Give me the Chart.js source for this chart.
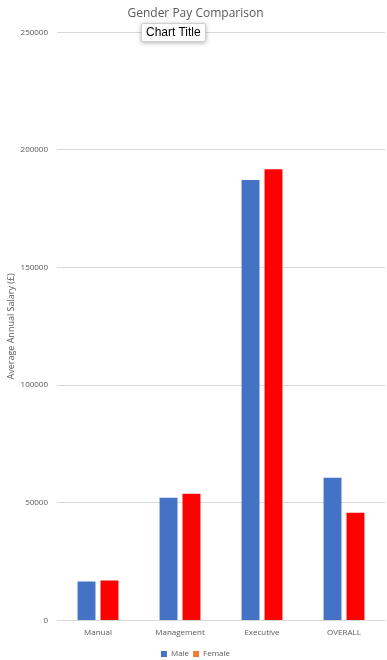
<!DOCTYPE html>
<html>
<head>
<meta charset="utf-8">
<script src="https://cdn.jsdelivr.net/npm/chart.js@4"></script>
<style>
  html, body { margin: 0; padding: 0; background: #fff; }
  #wrap { position: relative; width: 387px; height: 660px; }
  #tip {
    position: absolute; left: 141px; top: 23px;
    padding: 1px 4px 2px 4px; line-height: 14px;
    font: 12px "Liberation Sans", sans-serif; color: #000;
    background: #fdfdfd; border: 1px solid #d0d0d0; border-radius: 2px;
    box-shadow: 0 1px 4px rgba(0,0,0,0.3);
  }
</style>
</head>
<body>
<div id="wrap">
  <canvas id="payChart" width="387" height="660"></canvas>
  <div id="tip">Chart Title</div>
</div>
<script>
var categories = ['Manual', 'Management', 'Executive', 'OVERALL'];
var maleSalary = [16500, 52200, 187200, 60700];
var femaleSalary = [17000, 53900, 191800, 45800];
var yTicks = [0, 50000, 100000, 150000, 200000, 250000];

document.addEventListener('DOMContentLoaded', function() {
    var ctx = document.getElementById('payChart').getContext('2d');
    new Chart(ctx, {
        type: 'bar',
        data: {
            labels: categories,
            datasets: [
                {
                    label: 'Male',
                    data: maleSalary,
                    backgroundColor: '#4472C4',
                    categoryPercentage: 0.56,
                    barPercentage: 0.78
                },
                {
                    label: 'Female',
                    data: femaleSalary,
                    backgroundColor: '#FF0000',
                    categoryPercentage: 0.56,
                    barPercentage: 0.78
                }
            ]
        },
        options: {
            responsive: false,
            animation: false,
            layout: { padding: { left: 6, right: 2, top: 2, bottom: -8 } },
            plugins: {
                title: {
                    display: true,
                    text: 'Gender Pay Comparison',
                    color: '#595959',
                    font: { family: 'Open Sans', size: 12, weight: 'normal' },
                    padding: { top: 4, bottom: 12 }
                },
                legend: {
                    position: 'bottom',
                    labels: {
                        boxWidth: 6,
                        boxHeight: 6,
                        padding: 4,
                        color: '#595959',
                        font: { family: 'Open Sans', size: 8 },
                        generateLabels: function(chart) {
                            var legendColors = ['#4472C4', '#ED7D31'];
                            return chart.data.datasets.map(function(ds, i) {
                                return {
                                    text: ds.label,
                                    fillStyle: legendColors[i],
                                    strokeStyle: legendColors[i],
                                    lineWidth: 0,
                                    datasetIndex: i,
                                    fontColor: '#595959'
                                };
                            });
                        }
                    }
                },
                tooltip: { enabled: false }
            },
            scales: {
                x: {
                    grid: { display: false, drawTicks: false },
                    border: { color: '#d9d9d9' },
                    ticks: {
                        color: '#595959',
                        padding: 8,
                        font: { family: 'Open Sans', size: 8 }
                    }
                },
                y: {
                    min: 0,
                    max: 250000,
                    afterBuildTicks: function(axis) {
                        axis.ticks = yTicks.map(function(v) { return { value: v }; });
                    },
                    afterFit: function(axis) { axis.width = 51; },
                    grid: { color: '#d9d9d9', drawTicks: false },
                    border: { display: false },
                    ticks: {
                        color: '#595959',
                        padding: 9,
                        font: { family: 'Open Sans', size: 8 },
                        callback: function(v) { return String(v); }
                    },
                    title: {
                        display: true,
                        text: 'Average Annual Salary (£)',
                        color: '#595959',
                        font: { family: 'Open Sans', size: 9 },
                        padding: 0
                    }
                }
            }
        }
    });
});
</script>
</body>
</html>
